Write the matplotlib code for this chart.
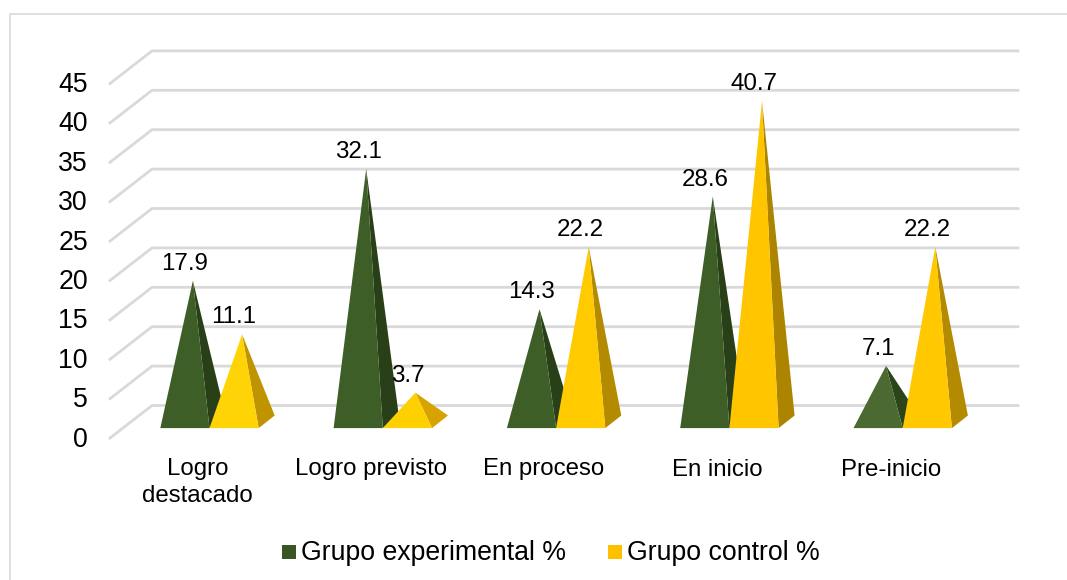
import matplotlib
matplotlib.use("Agg")
import matplotlib.pyplot as plt
from matplotlib.patches import Polygon, Rectangle

plt.rcParams["font.family"] = ["Liberation Sans", "DejaVu Sans"]

categories = ["Logro\ndestacado", "Logro previsto", "En proceso", "En inicio", "Pre-inicio"]
series_names = ["Grupo experimental %", "Grupo control %"]
experimental = [17.9, 32.1, 14.3, 28.6, 7.1]
control = [11.1, 3.7, 22.2, 40.7, 22.2]
y_ticks = [0, 5, 10, 15, 20, 25, 30, 35, 40, 45]

# Shaded faces for each pyramid: (front, side)
green_faces = [("#3e5e27", "#293f17")] * 4 + [("#4a6a32", "#2b4419")]
yellow_faces = [("#ffd406", "#c09300"), ("#ffd000", "#d6a300"), ("#ffca00", "#b38a00"),
                ("#ffc600", "#ac8400"), ("#ffc800", "#b38a00")]
green_legend, yellow_legend = "#375623", "#ffc000"
grid_color = "#d9d9d9"

PX_W, PX_H = 1067, 580
PX_PER_CAT = 173.3
PX_PER_VAL = 7.88
X0_PX, Y0_PX = 217.5, 421.8

# Oblique projection: half the chart depth, in data units
DEPTH_X = 21 / PX_PER_CAT
DEPTH_Y = 16.3 / PX_PER_VAL
WIDTH = 49.2 / PX_PER_CAT
SIDE_X = 16 / PX_PER_CAT
SIDE_Y = 12.6 / PX_PER_VAL

fig = plt.figure(figsize=(PX_W / 100, PX_H / 100), dpi=100, facecolor="white")
ax = fig.add_axes([0, 0, 1, 1])
ax.set_xlim(-X0_PX / PX_PER_CAT, (PX_W - X0_PX) / PX_PER_CAT)
ax.set_ylim(-(PX_H - Y0_PX) / PX_PER_VAL, Y0_PX / PX_PER_VAL)
ax.axis("off")


def px(x, y):
    """Convert a figure pixel position to data coordinates."""
    return (x - X0_PX) / PX_PER_CAT, (Y0_PX - y) / PX_PER_VAL


# Chart frame: only its top and left edges fall inside the canvas
(fx0, fy0), (fx1, fy1) = px(9.5, 581), px(1068, 14.5)
ax.plot([fx0, fx0, fx1], [fy0, fy1, fy1], color="#dcdcdc", lw=1.3, solid_joinstyle="miter", zorder=1)

# Gridlines on the back wall, with their slanted run on the floor side
right = px(1018, 0)[0]
for tick in y_ticks:
    back_x, back_y = -1.0 * (217.5 - 152) / PX_PER_CAT, tick + DEPTH_Y
    front_x, front_y = back_x - 2 * DEPTH_X, tick - DEPTH_Y
    ax.plot([front_x, back_x, right], [front_y, back_y, back_y],
            color=grid_color, lw=2.0, solid_joinstyle="miter", zorder=2)
    ax.text(front_x - 22 / PX_PER_CAT, tick - DEPTH_Y - 0.2, str(tick), ha="right", va="center",
            fontsize=19.2, color="#000000", zorder=6)


def pyramid(left, value, faces, z):
    base = -SIDE_Y / 2
    top_x = left + (WIDTH + SIDE_X) / 2
    front = [(left, base), (left + WIDTH, base), (top_x, value)]
    side = [(left + WIDTH, base), (left + WIDTH + SIDE_X, base + SIDE_Y), (top_x, value)]
    ax.add_patch(Polygon(side, closed=True, fc=faces[1], ec="none", zorder=z))
    ax.add_patch(Polygon(front, closed=True, fc=faces[0], ec="none", zorder=z + 0.1))
    return top_x


for i, cat in enumerate(categories):
    top_a = pyramid(i - WIDTH - 8 / PX_PER_CAT, experimental[i], green_faces[i], 3 + i * 0.01)
    top_b = pyramid(i - 8 / PX_PER_CAT, control[i], yellow_faces[i], 3.5 + i * 0.01)
    ax.text(top_a - 8 / PX_PER_CAT, experimental[i] + 0.75, f"{experimental[i]:.1f}", ha="center", va="bottom",
            fontsize=17.4, color="#000000", zorder=7)
    ax.text(top_b - 8 / PX_PER_CAT, control[i] + 0.75, f"{control[i]:.1f}", ha="center", va="bottom",
            fontsize=17.4, color="#000000", zorder=7)
    ax.text(i - 20 / PX_PER_CAT, px(0, 458.5)[1], cat, ha="center", va="top",
            fontsize=17.3, color="#000000", linespacing=1.29, zorder=6)

# Legend
sw = 14
for name, colour, sx, tx in zip(series_names, [green_legend, yellow_legend], [282, 608], [301, 627]):
    x0, y0 = px(sx, 552 + sw / 2)
    x1, y1 = px(sx + sw, 552 - sw / 2)
    ax.add_patch(Rectangle((x0, y0), x1 - x0, y1 - y0, fc=colour, ec="none", zorder=6))
    lx, ly = px(tx, 553)
    ax.text(lx, ly, name, ha="left", va="center", fontsize=19.2, color="#000000", zorder=6)

fig.savefig("out.png", dpi=100)
